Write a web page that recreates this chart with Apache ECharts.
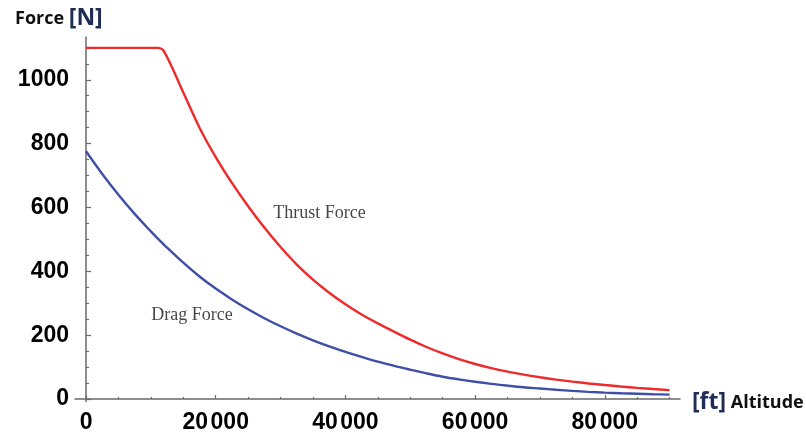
<!DOCTYPE html>
<html><head><meta charset="utf-8">
<script src="https://cdn.jsdelivr.net/npm/echarts@6/dist/echarts.min.js"></script>
<style>html,body{margin:0;padding:0;background:#fff}#c{width:806px;height:435px}</style>
</head><body><div id="c"></div>
<script>
const altitude = [0, 2500, 5000, 7500, 10000, 11000, 12000, 15000, 17500, 20000, 22500, 25000, 27500, 30000, 32500, 35000, 37500, 40000, 42500, 45000, 47500, 50000, 52500, 55000, 57500, 60000, 62500, 65000, 67500, 70000, 72500, 75000, 77500, 80000, 82500, 85000, 87500, 90000];
const thrust   = [1100, 1100, 1100, 1100, 1100, 1100, 1090, 960, 850, 758, 677, 604, 537, 476, 421, 374, 333, 297, 265, 237, 211, 186, 163, 142.7, 125, 109.8, 96.8, 85.8, 76.3, 68.2, 61, 54.6, 48.9, 43.8, 39.2, 35.1, 31.4, 28.1];
const drag     = [776, 705, 640, 580, 525, 504, 484, 427, 384, 346, 312, 281, 253, 228, 205, 184, 165, 148, 132, 117, 104, 92, 80.5, 70, 61.5, 54, 47.5, 42, 37, 33, 29, 25.5, 22.5, 20, 18, 16.5, 15, 14];
const xTicks = [0, 20000, 40000, 60000, 80000];
const xMinorTicks = [5000, 10000, 15000, 25000, 30000, 35000, 45000, 50000, 55000, 65000, 70000, 75000, 85000, 90000];
const yTicks = [0, 200, 400, 600, 800, 1000];
const yMinorTicks = [50, 100, 150, 250, 300, 350, 450, 500, 550, 650, 700, 750, 850, 900, 950, 1050, 1100];
const annotations = [
  { name: 'Thrust Force', x: 36000, y: 581 },
  { name: 'Drag Force', x: 16350, y: 262 }
];

const axisColor = '#6a6a6a';
const labelStyle = { fontFamily: 'Liberation Sans', fontWeight: 'bold', fontSize: 23, color: '#000' };
const xFmt = v => {
  const s = String(v);
  return v >= 10000 ? '{d|' + s.slice(0, -3) + '}{s| }{d|' + s.slice(-3) + '}' : '{d|' + s + '}';
};
const yFmt = v => String(v);

const chart = echarts.init(document.getElementById('c'), null, { renderer: 'canvas' });
chart.setOption({
  animation: false,
  backgroundColor: '#fff',
  grid: { left: 75, width: 605, top: 37, height: 364.6 },
  title: [
    { left: 10, top: 2, text: '{a|Force }{b|[N]}',
      textStyle: { rich: {
        a: { fontFamily: 'Open Sans', fontWeight: 'bold', fontSize: 18, color: '#111' },
        b: { fontFamily: 'Open Sans', fontWeight: 'bold', fontSize: 23, color: '#1f2d55' } } } },
    { left: 687, top: 386, text: '{b|[ft]}{a| Altitude}',
      textStyle: { rich: {
        a: { fontFamily: 'Open Sans', fontWeight: 'bold', fontSize: 18, color: '#111' },
        b: { fontFamily: 'Open Sans', fontWeight: 'bold', fontSize: 23, color: '#1f2d55' } } } }
  ],
  xAxis: [
    { type: 'value', min: -1700, max: 91600, position: 'bottom',
      axisLine: { onZero: true, onZeroAxisIndex: 0, lineStyle: { color: axisColor, width: 1.5 } },
      axisTick: { inside: true, length: 4, customValues: xTicks, lineStyle: { color: axisColor, width: 1.2 } },
      axisLabel: { customValues: xTicks, formatter: xFmt, margin: 10,
        rich: { d: labelStyle, s: { fontSize: 9 } } },
      splitLine: { show: false } },
    { type: 'value', min: -1700, max: 91600, position: 'bottom',
      axisLine: { show: false, onZero: true, onZeroAxisIndex: 0 },
      axisTick: { inside: true, length: 2, customValues: xMinorTicks, lineStyle: { color: axisColor, width: 1.2 } },
      axisLabel: { show: false }, splitLine: { show: false } }
  ],
  yAxis: [
    { type: 'value', min: -8, max: 1134, position: 'left',
      axisLine: { show: true, onZero: true, onZeroAxisIndex: 0, lineStyle: { color: axisColor, width: 1.5 } },
      axisTick: { show: true, inside: true, length: 5, customValues: yTicks, lineStyle: { color: axisColor, width: 1.2 } },
      axisLabel: Object.assign({ customValues: yTicks, formatter: yFmt, margin: 6 }, labelStyle),
      splitLine: { show: false } },
    { type: 'value', min: -8, max: 1134, position: 'left',
      axisLine: { show: false, onZero: true, onZeroAxisIndex: 0 },
      axisTick: { show: true, inside: true, length: 3, customValues: yMinorTicks, lineStyle: { color: axisColor, width: 1.2 } },
      axisLabel: { show: false }, splitLine: { show: false } }
  ],
  series: [
    { name: 'Thrust Force', type: 'line', xAxisIndex: 0, yAxisIndex: 0, showSymbol: false,
      smooth: 0.35,
      lineStyle: { color: '#ee2a2a', width: 2.4 },
      data: altitude.map((a, i) => [a, thrust[i]]) },
    { name: 'Drag Force', type: 'line', xAxisIndex: 0, yAxisIndex: 0, showSymbol: false,
      smooth: 0.35,
      lineStyle: { color: '#3f4ea6', width: 2.4 },
      data: altitude.map((a, i) => [a, drag[i]]) },
    { type: 'scatter', xAxisIndex: 0, yAxisIndex: 0, symbolSize: 0, silent: true,
      label: { show: true, position: 'inside', formatter: '{b}',
        fontFamily: 'Liberation Serif', fontSize: 18, color: '#151515' },
      data: annotations.map(a => ({ name: a.name, value: [a.x, a.y] })) }
  ]
});
</script></body></html>
